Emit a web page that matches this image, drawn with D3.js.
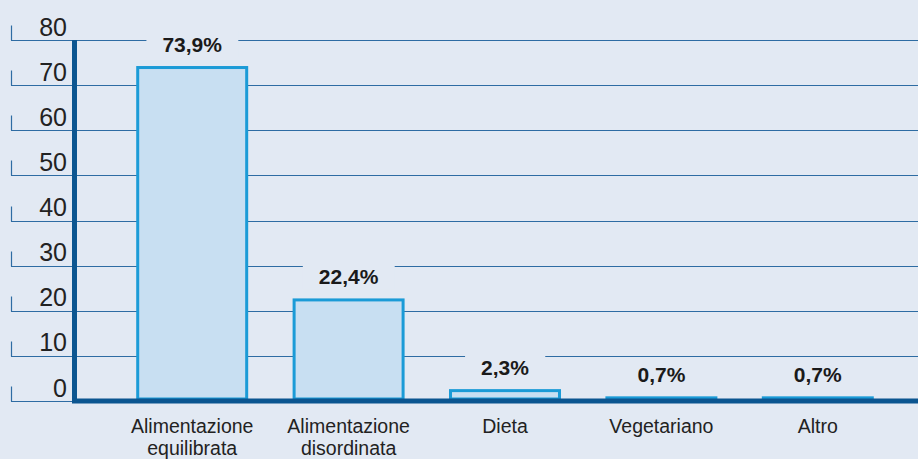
<!DOCTYPE html>
<html>
<head>
<meta charset="utf-8">
<script src="https://cdn.jsdelivr.net/npm/d3@7"></script>
<style>
  html, body { margin: 0; padding: 0; background: #e2e9f3; }
  svg { display: block; font-family: "Liberation Sans", Arial, Helvetica, sans-serif; }
</style>
</head>
<body>
<svg id="chart" width="918" height="459"></svg>
<script>
const categories = ["Alimentazione equilibrata", "Alimentazione disordinata", "Dieta", "Vegetariano", "Altro"];
const values = [73.9, 22.4, 2.3, 0.7, 0.7];
const valueLabels = ["73,9%", "22,4%", "2,3%", "0,7%", "0,7%"];
const yTicks = [0, 10, 20, 30, 40, 50, 60, 70, 80];

const W = 918, H = 459;
const svg = d3.select("#chart");
svg.append("rect").attr("width", W).attr("height", H).attr("fill", "#e2e9f3");

const y = d3.scaleLinear().domain([0, 80]).range([401, 40]);
const x = d3.scaleBand().domain(categories).range([114, 896]).paddingInner(0.284).paddingOuter(0.142);

const gridColor = "#2e6ca3";
const axisColor = "#0b5590";

// gridlines with left tick marks
const grid = svg.append("g");
yTicks.forEach(t => {
  const yy = Math.round(y(t)) + 0.5;
  grid.append("line").attr("x1", 11).attr("x2", t === 0 ? 74 : W)
    .attr("y1", yy).attr("y2", yy).attr("stroke", gridColor).attr("stroke-width", 1.2);
  grid.append("line").attr("x1", 11.5).attr("x2", 11.5)
    .attr("y1", yy - 15).attr("y2", yy).attr("stroke", gridColor).attr("stroke-width", 1.2);
});

// y axis labels via d3 axis
const yAxis = d3.axisLeft(y).tickValues(yTicks).tickSize(0).tickPadding(0).tickFormat(d3.format("d"));
const yg = svg.append("g").attr("transform", "translate(67,0)").call(yAxis);
yg.select(".domain").remove();
yg.selectAll("text")
  .attr("font-family", "'Liberation Sans', Arial, sans-serif")
  .attr("font-size", 25).attr("fill", "#222").attr("dy", -5).attr("dominant-baseline", "auto")
  .attr("x", 0).attr("text-anchor", "end");

// value labels with background that interrupts gridlines
const labelG = svg.append("g");
const bars = svg.append("g");

categories.forEach((c, i) => {
  const bx = x(c), bw = x.bandwidth();
  const top = y(values[i]);
  bars.append("rect")
    .attr("x", bx + 1.5).attr("y", top)
    .attr("width", bw - 3).attr("height", Math.max(0, 399 - top))
    .attr("fill", "#c8dff2").attr("stroke", "#1b9bd7").attr("stroke-width", 3);
});

categories.forEach((c, i) => {
  const cx = x(c) + x.bandwidth() / 2;
  const by = y(values[i]) - 16;
  const t = labelG.append("text")
    .attr("x", cx).attr("y", by).attr("text-anchor", "middle")
    .attr("font-size", 21).attr("font-weight", "bold").attr("fill", "#1a1a1a")
    .text(valueLabels[i]);
  const bb = t.node().getBBox();
  labelG.insert("rect", "text")
    .attr("x", bb.x - 16).attr("y", bb.y - 2)
    .attr("width", bb.width + 32).attr("height", bb.height + 4)
    .attr("fill", "#e2e9f3");
});

// axes thick lines
svg.append("line").attr("x1", 74.5).attr("x2", 74.5).attr("y1", 40).attr("y2", 403)
  .attr("stroke", axisColor).attr("stroke-width", 5);
svg.append("line").attr("x1", 72).attr("x2", W).attr("y1", 401).attr("y2", 401)
  .attr("stroke", axisColor).attr("stroke-width", 5);

// category labels
const xAxis = d3.axisBottom(x).tickSize(0).tickFormat("");
const xg = svg.append("g").attr("transform", "translate(0,401)").call(xAxis);
xg.select(".domain").remove();
xg.selectAll(".tick").each(function(d) {
  const words = d.split(" ");
  const txt = d3.select(this).append("text")
    .attr("text-anchor", "middle").attr("font-size", 19.5).attr("fill", "#222")
    .attr("font-family", "'Liberation Sans', Arial, sans-serif");
  words.forEach((w, k) => {
    txt.append("tspan").attr("x", 0).attr("y", 32 + k * 22).text(w);
  });
});
</script>
</body>
</html>
